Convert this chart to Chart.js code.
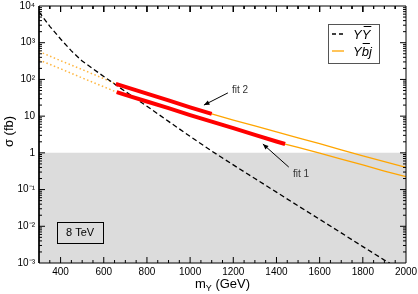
<!DOCTYPE html>
<html>
<head>
<meta charset="utf-8">
<script src="https://cdn.jsdelivr.net/npm/chart.js@4.4.0/dist/chart.umd.min.js"></script>
<style>
  html, body { margin: 0; padding: 0; background: #fff; }
</style>
</head>
<body>
<canvas id="chart1" width="418" height="294"></canvas>
<script>
// cross sections (fb)
var massYY  = [300, 350, 400, 450, 500, 600, 700, 800, 900, 1000, 1100, 1200, 1300, 1400, 1500, 1600, 1700, 1800, 1900, 1925];
var sigmaYY = [6900, 2800, 1260, 600, 316, 120, 47, 18.6, 7.2, 2.8, 1.12, 0.47, 0.2, 0.085, 0.036, 0.0155, 0.0066, 0.0028, 0.0012, 0.001];

var fit2Mass  = [300, 400, 500, 600, 656, 700, 800, 900, 1000, 1100, 1200, 1300, 1400, 1500, 1600, 1700, 1800, 1900, 2000];
var fit2Sigma = [575, 324, 186, 105, 76, 63, 41, 27, 17.4, 11.5, 7.8, 5.4, 3.7, 2.57, 1.78, 1.2, 0.83, 0.575, 0.4];
var fit2Red   = [656, 1100];

var fit1Mass  = [300, 400, 500, 600, 660, 700, 800, 900, 1000, 1100, 1200, 1300, 1400, 1440, 1500, 1600, 1700, 1800, 1900, 2000];
var fit1Sigma = [339, 195, 110, 63, 45, 38, 25, 16.6, 10.7, 7.1, 4.7, 3.1, 2.04, 1.74, 1.41, 0.98, 0.68, 0.47, 0.32, 0.224];
var fit1Red   = [660, 1440];

var shadeTop = 1;   // grey region below 1 fb

var xRange = [300, 2000];
var yRange = [0.001, 10000];
var xTicks = [400, 600, 800, 1000, 1200, 1400, 1600, 1800, 2000];
var yTicks = [0.001, 0.01, 0.1, 1, 10, 100, 1000, 10000];
var yTickLabels = ['10\u207B\u00B3', '10\u207B\u00B2', '10\u207B\u00B9', '1', '10', '10\u00B2', '10\u00B3', '10\u2074'];

var notes = [
  { text: 'fit 2', at: [1194, 51], tail: [1175, 43], tip: [1064, 20] },
  { text: 'fit 1', at: [1476, 0.26], tail: [1457, 0.41], tip: [1337, 1.74] }
];
var energyLabel = { text: '8 TeV', at: [490, 0.0069] };

function pts(xs, ys, lo, hi) {
  return xs.map(function (x, i) { return { x: x, y: ys[i] }; })
           .filter(function (p) { return p.x >= lo && p.x <= hi; });
}

// box round the plot and the inward tick marks, as line segments
var pxPerGeV = 367 / (xRange[1] - xRange[0]);
var pxPerDecade = 257 / 7;
var frameLine = [
  { x: xRange[0], y: yRange[0] }, { x: xRange[1], y: yRange[0] },
  { x: xRange[1], y: yRange[1] }, { x: xRange[0], y: yRange[1] },
  { x: xRange[0], y: yRange[0] }
];
var tickLine = [];
for (var m = 350; m <= 1950; m += 50) {
  var f = Math.pow(10, ((m % 200 === 0) ? 6 : 3) / pxPerDecade);
  tickLine.push({ x: m, y: yRange[0] }, { x: m, y: yRange[0] * f }, { x: m, y: null });
  tickLine.push({ x: m, y: yRange[1] }, { x: m, y: yRange[1] / f }, { x: m, y: null });
}
for (var e = -3; e < 4; e++) {
  for (var k = 1; k <= 9; k++) {
    if (k === 1 && e === -3) continue;
    var v = k * Math.pow(10, e);
    var dx = ((k === 1) ? 6 : 3) / pxPerGeV;
    tickLine.push({ x: xRange[0], y: v }, { x: xRange[0] + dx, y: v }, { x: xRange[0], y: null });
    tickLine.push({ x: xRange[1], y: v }, { x: xRange[1] - dx, y: v }, { x: xRange[1], y: null });
  }
}

var FONT = "'Liberation Sans', Arial, sans-serif";

var extras = {
  id: 'extras',
  afterDraw: function (chart) {
    var c = chart.ctx, ca = chart.chartArea, xa = chart.scales.x, ya = chart.scales.y;
    c.save();
    c.lineWidth = 1;

    // annotations with arrows
    c.font = '10px ' + FONT;
    c.textBaseline = 'middle';
    notes.forEach(function (n) {
      c.fillStyle = '#333';
      c.fillText(n.text, xa.getPixelForValue(n.at[0]), ya.getPixelForValue(n.at[1]));
      var x0 = xa.getPixelForValue(n.tail[0]), y0 = ya.getPixelForValue(n.tail[1]);
      var x1 = xa.getPixelForValue(n.tip[0]), y1 = ya.getPixelForValue(n.tip[1]);
      c.strokeStyle = '#000';
      c.beginPath(); c.moveTo(x0, y0); c.lineTo(x1, y1); c.stroke();
      var a = Math.atan2(y1 - y0, x1 - x0);
      c.fillStyle = '#000';
      c.beginPath();
      c.moveTo(x1, y1);
      c.lineTo(x1 - 6 * Math.cos(a - 0.4), y1 - 6 * Math.sin(a - 0.4));
      c.lineTo(x1 - 6 * Math.cos(a + 0.4), y1 - 6 * Math.sin(a + 0.4));
      c.closePath(); c.fill();
    });

    // 8 TeV box
    var bx = xa.getPixelForValue(energyLabel.at[0]), by = ya.getPixelForValue(energyLabel.at[1]);
    c.strokeStyle = '#000';
    c.strokeRect(Math.round(bx - 23) + 0.5, Math.round(by - 10) + 0.5, 46, 21);
    c.fillStyle = '#000';
    c.font = '11px ' + FONT;
    c.textAlign = 'center';
    c.fillText(energyLabel.text, bx, by + 1);

    // legend
    var lx = ca.right - 78, ly = ca.top + 18;
    c.fillStyle = '#fff';
    c.fillRect(lx, ly, 51, 39);
    c.strokeStyle = '#555';
    c.strokeRect(lx + 0.5, ly + 0.5, 51, 39);
    c.lineWidth = 1.3;
    c.strokeStyle = '#000';
    c.setLineDash([4, 3]);
    c.beginPath(); c.moveTo(lx + 4, ly + 10); c.lineTo(lx + 15, ly + 10); c.stroke();
    c.setLineDash([]);
    c.strokeStyle = '#ffa500';
    c.beginPath(); c.moveTo(lx + 4, ly + 27); c.lineTo(lx + 16, ly + 27); c.stroke();
    c.font = 'italic 13px ' + FONT;
    c.textAlign = 'left';
    c.fillStyle = '#000';
    c.lineWidth = 1;
    c.strokeStyle = '#000';
    var tx = lx + 25;
    c.fillText('Y', tx, ly + 11);
    var w = c.measureText('Y').width;
    c.fillText('Y', tx + w, ly + 11);
    c.beginPath(); c.moveTo(tx + w + 2, ly + 2.5); c.lineTo(tx + 2 * w + 1, ly + 2.5); c.stroke();
    c.fillText('Y', tx, ly + 28);
    var wb = c.measureText('b').width;
    c.fillText('b', tx + w, ly + 28);
    c.fillText('j', tx + w + wb, ly + 28);
    c.beginPath(); c.moveTo(tx + w + 1, ly + 19.5); c.lineTo(tx + w + wb + 1, ly + 19.5); c.stroke();

    // axis titles
    c.font = '13px ' + FONT;
    c.textBaseline = 'alphabetic';
    var wm = c.measureText('m').width, wg = c.measureText(' (GeV)').width;
    c.font = '9px ' + FONT;
    var ws = c.measureText('Y').width;
    var cx = (ca.left + ca.right) / 2 - (wm + ws + wg) / 2;
    c.font = '13px ' + FONT;
    c.fillText('m', cx, 288);
    c.font = '9px ' + FONT;
    c.fillText('Y', cx + wm, 291);
    c.font = '13px ' + FONT;
    c.fillText(' (GeV)', cx + wm + ws, 288);
    c.translate(13, (ca.top + ca.bottom) / 2 - 3);
    c.rotate(-Math.PI / 2);
    c.textAlign = 'center';
    c.fillText('\u03C3 (fb)', 0, 0);
    c.restore();
  }
};

var ctx1 = document.getElementById('chart1');
var chart1 = new Chart(ctx1, {
  type: 'line',
  data: {
    datasets: [
      { data: frameLine, borderColor: '#000', borderWidth: 1, clip: false },
      { data: tickLine, borderColor: '#000', borderWidth: 1, spanGaps: false, clip: false },
      { data: pts(fit2Mass, fit2Sigma, fit2Red[0], fit2Red[1]), borderColor: '#ff0000', borderWidth: 4 },
      { data: pts(fit1Mass, fit1Sigma, fit1Red[0], fit1Red[1]), borderColor: '#ff0000', borderWidth: 4 },
      { data: pts(massYY, sigmaYY, 300, 2000), borderColor: '#000', borderWidth: 1.3, borderDash: [5, 3] },
      { data: pts(fit2Mass, fit2Sigma, fit2Red[0], 2000), borderColor: '#ffa500', borderWidth: 1.3 },
      { data: pts(fit1Mass, fit1Sigma, fit1Red[0], 2000), borderColor: '#ffa500', borderWidth: 1.3 },
      { data: pts(fit2Mass, fit2Sigma, 300, fit2Red[0]), borderColor: '#ffb640', borderWidth: 1.5, borderDash: [1.5, 2.5] },
      { data: pts(fit1Mass, fit1Sigma, 300, fit1Red[0]), borderColor: '#ffb640', borderWidth: 1.5, borderDash: [1.5, 2.5] },
      { data: [{ x: 300, y: shadeTop }, { x: 2000, y: shadeTop }], borderWidth: 0, borderColor: 'rgba(0,0,0,0)',
        fill: 'start', backgroundColor: '#dcdcdc' }
    ]
  },
  options: {
    responsive: false,
    animation: false,
    devicePixelRatio: 1,
    layout: { padding: { left: 0, right: 12, top: 6, bottom: 0 } },
    elements: { point: { radius: 0 }, line: { tension: 0 } },
    plugins: {
      legend: { display: false },
      tooltip: { enabled: false },
      filler: { drawTime: 'beforeDatasetsDraw' }
    },
    scales: {
      x: {
        type: 'linear', min: xRange[0], max: xRange[1],
        afterBuildTicks: function (s) { s.ticks = xTicks.map(function (v) { return { value: v }; }); },
        afterFit: function (s) { s.height = 31; s.paddingLeft = 0; s.paddingRight = 0; },
        grid: { display: false, drawTicks: false },
        border: { display: false },
        ticks: {
          font: { family: FONT, size: 10 }, color: '#000', padding: 3, maxRotation: 0,
          callback: function (v) { return String(v); }
        }
      },
      y: {
        type: 'logarithmic', min: yRange[0], max: yRange[1],
        afterBuildTicks: function (s) { s.ticks = yTicks.map(function (v) { return { value: v, major: true }; }); },
        afterFit: function (s) { s.width = 39; s.paddingTop = 0; s.paddingBottom = 0; },
        grid: { display: false, drawTicks: false },
        border: { display: false },
        ticks: {
          font: { family: FONT, size: 10 }, color: '#000', padding: 4,
          callback: function (v, i) { return yTickLabels[i]; }
        }
      }
    }
  },
  plugins: [extras]
});
</script>
</body>
</html>
